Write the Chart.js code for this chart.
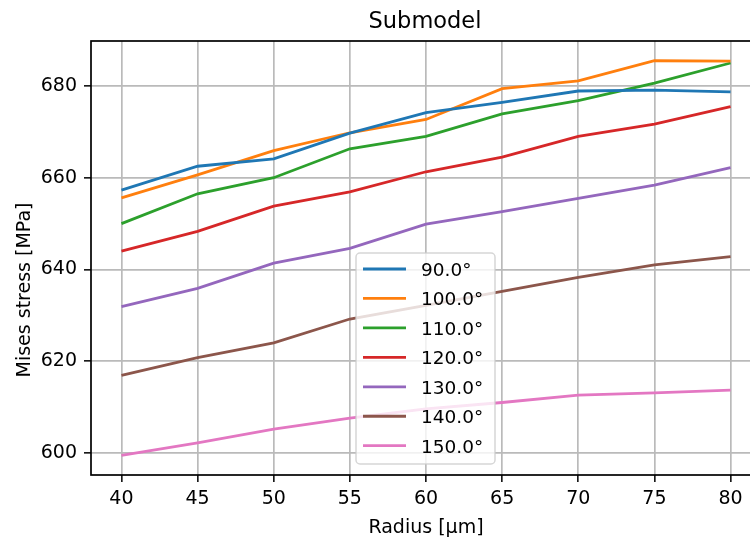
<!DOCTYPE html>
<html>
<head>
<meta charset="utf-8">
<title>Submodel</title>
<script src="https://cdn.jsdelivr.net/npm/chart.js@4.4.1/dist/chart.umd.min.js"></script>
<style>
  html, body { margin: 0; padding: 0; background: #fff; overflow: hidden; }
  #wrap { width: 762px; height: 537px; }
</style>
</head>
<body>
<div id="wrap"><canvas id="submodelChart" width="762" height="537"></canvas></div>
<script>
// Radius values on the x axis
const radius = [40, 45, 50, 55, 60, 65, 70, 75, 80];

// Mises stress [MPa] for each angle
const s90 = [657.3, 662.5, 664.1, 669.7, 674.2, 676.4, 678.9, 679.1, 678.7];
const s100 = [655.6, 660.6, 665.9, 669.8, 672.7, 679.4, 681.1, 685.5, 685.4];
const s110 = [650.0, 656.5, 660.0, 666.3, 669.0, 673.9, 676.8, 680.6, 685.0];
const s120 = [644.0, 648.3, 653.8, 656.9, 661.3, 664.5, 669.0, 671.7, 675.5];
const s130 = [631.9, 635.9, 641.4, 644.6, 649.9, 652.6, 655.5, 658.4, 662.2];
const s140 = [616.9, 620.8, 624.0, 629.2, 632.2, 635.2, 638.3, 641.0, 642.8];
const s150 = [599.5, 602.2, 605.2, 607.6, 609.6, 611.0, 612.6, 613.1, 613.7];

const angleLabels = ['90.0°', '100.0°', '110.0°', '120.0°', '130.0°', '140.0°', '150.0°'];
const xTicks = [40, 45, 50, 55, 60, 65, 70, 75, 80];
const yTicks = [600, 620, 640, 660, 680];

const seriesList = [s90, s100, s110, s120, s130, s140, s150];
const colors = ['#1f77b4', '#ff7f0e', '#2ca02c', '#d62728', '#9467bd', '#8c564b', '#e377c2'];

const FONT = "'DejaVu Sans', 'Liberation Sans', sans-serif";

const datasets = seriesList.map((vals, i) => ({
  label: angleLabels[i],
  data: radius.map((r, j) => ({ x: r, y: vals[j] })),
  borderColor: colors[i],
  backgroundColor: colors[i],
  borderWidth: 2.8,
  pointRadius: 0,
  tension: 0,
  fill: false,
}));

// spines, titles and matplotlib-like legend box
const decorations = {
  id: 'decorations',
  afterDatasetsDraw(chart) {
    const { ctx, chartArea: a } = chart;
    ctx.save();

    // axes frame
    ctx.strokeStyle = '#000';
    ctx.lineWidth = 1.7;
    ctx.strokeRect(a.left, a.top, a.right - a.left, a.bottom - a.top);

    // titles
    ctx.fillStyle = '#000';
    ctx.textAlign = 'center';
    ctx.textBaseline = 'alphabetic';
    ctx.font = '22.5px ' + FONT;
    ctx.fillText('Submodel', (a.left + a.right) / 2 - 1, 28);
    ctx.font = '19px ' + FONT;
    ctx.fillText('Radius [µm]', (a.left + a.right) / 2, 533);
    ctx.save();
    ctx.translate(29.5, 290);
    ctx.rotate(-Math.PI / 2);
    ctx.fillText('Mises stress [MPa]', 0, 0);
    ctx.restore();

    // legend
    const lx = 356, ly = 253, lw = 139, lh = 211, r = 4;
    ctx.beginPath();
    ctx.moveTo(lx + r, ly);
    ctx.arcTo(lx + lw, ly, lx + lw, ly + lh, r);
    ctx.arcTo(lx + lw, ly + lh, lx, ly + lh, r);
    ctx.arcTo(lx, ly + lh, lx, ly, r);
    ctx.arcTo(lx, ly, lx + lw, ly, r);
    ctx.closePath();
    ctx.fillStyle = 'rgba(255,255,255,0.8)';
    ctx.fill();
    ctx.strokeStyle = 'rgba(204,204,204,0.8)';
    ctx.lineWidth = 1.5;
    ctx.stroke();

    ctx.font = '18.5px ' + FONT;
    ctx.textAlign = 'left';
    chart.data.datasets.forEach((ds, i) => {
      const y = 269 + i * 29.45;
      ctx.strokeStyle = ds.borderColor;
      ctx.lineWidth = 2.8;
      ctx.beginPath();
      ctx.moveTo(363, y);
      ctx.lineTo(406, y);
      ctx.stroke();
      ctx.fillStyle = '#000';
      ctx.fillText(ds.label, 421, y + 7);
    });

    ctx.restore();
  },
};

const ctx = document.getElementById('submodelChart').getContext('2d');
new Chart(ctx, {
  type: 'line',
  data: { datasets: datasets },
  options: {
    responsive: false,
    animation: false,
    devicePixelRatio: 1,
    layout: { padding: { top: 41, right: 1, bottom: 0, left: 0 } },
    plugins: {
      legend: { display: false },
      title: { display: false },
      tooltip: { enabled: false },
    },
    scales: {
      x: {
        type: 'linear',
        min: 38,
        max: 82,
        afterBuildTicks: (scale) => { scale.ticks = xTicks.map(v => ({ value: v })); },
        afterFit: (scale) => { scale.height = 62; },
        grid: { color: '#bababa', lineWidth: 1.7, tickColor: '#000', tickWidth: 1.5, tickLength: 7 },
        border: { display: false },
        ticks: { color: '#000', font: { family: FONT, size: 19 }, padding: 6, maxRotation: 0 },
      },
      y: {
        type: 'linear',
        min: 595.2,
        max: 689.8,
        afterBuildTicks: (scale) => { scale.ticks = yTicks.map(v => ({ value: v })); },
        afterFit: (scale) => { scale.width = 91; },
        grid: { color: '#bababa', lineWidth: 1.7, tickColor: '#000', tickWidth: 1.5, tickLength: 7 },
        border: { display: false },
        ticks: { color: '#000', font: { family: FONT, size: 19 }, padding: 7 },
      },
    },
  },
  plugins: [decorations],
});
</script>
</body>
</html>
